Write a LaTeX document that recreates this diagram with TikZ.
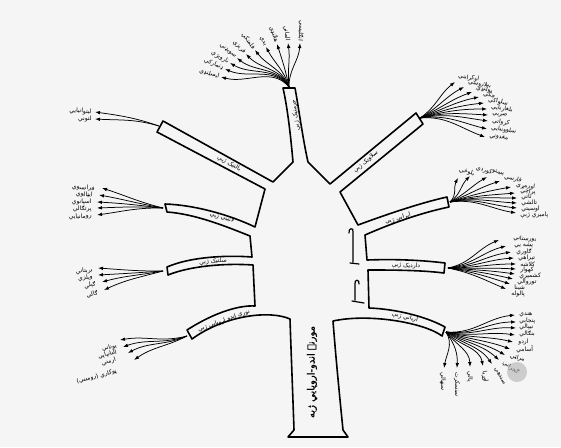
\documentclass[tikz,border=0pt]{standalone}
\usepackage{fontspec}
\newfontfamily\arabicfont[Script=Arabic]{DejaVu Sans}
\newfontfamily\arabicbold[Script=Arabic,FakeBold=1.2]{DejaVu Sans}
\TeXXeTstate=1
\usetikzlibrary{arrows.meta,calc}
\tikzset{
  tree/.style={line width=1.6pt, line join=round},
  fan/.style={line width=0.75pt, -{Latex[length=5pt,width=3.6pt]}},
  lab/.style={font=\arabicfont\fontsize{6}{7}\selectfont, inner sep=0.2pt},
  blab/.style={font=\arabicfont\fontsize{6}{7}\selectfont, inner sep=0pt},
  tlab/.style={font=\arabicbold\fontsize{10}{12}\selectfont, inner sep=0pt},
  brk/.style={line width=1.2pt, line cap=round}
}
\begin{document}
\begin{tikzpicture}[x=1pt,y=1pt]
\useasboundingbox (0,0) rectangle (561,-447);
\fill[gray!8] (0,0) rectangle (561,-447);

% tree outline
\draw[tree]
 (288,-437) -- (294,-430)
 .. controls (293,-400) and (291,-350) .. (290,-319)
 .. controls (270,-310) and (225,-315) .. (192,-339)
 -- (187,-330)
 .. controls (215,-312) and (240,-305) .. (255,-306)
 -- (253,-265)
 .. controls (225,-263) and (190,-266) .. (168,-275)
 -- (167,-267)
 .. controls (190,-257) and (225,-255) .. (252,-257)
 -- (250,-236)
 .. controls (225,-226) and (195,-214) .. (167,-212)
 -- (165,-204)
 .. controls (195,-205) and (230,-215) .. (255,-227)
 -- (265,-189)
 -- (157,-132)
 -- (163,-121)
 -- (273,-182)
 -- (293,-162)
 .. controls (291,-140) and (288,-110) .. (283,-88)
 -- (295,-88)
 .. controls (299,-110) and (303,-140) .. (308,-162)
 -- (330,-184)
 -- (416,-113)
 -- (423,-124)
 -- (340,-192)
 -- (358,-225)
 .. controls (385,-215) and (420,-203) .. (447,-197)
 -- (449,-207)
 .. controls (420,-213) and (390,-224) .. (365,-235)
 -- (367,-260)
 .. controls (395,-259) and (420,-260) .. (445,-263)
 -- (444,-273)
 .. controls (420,-270) and (390,-270) .. (368,-270)
 -- (369,-308)
 .. controls (395,-309) and (425,-316) .. (445,-327)
 -- (442,-336)
 .. controls (425,-323) and (370,-313) .. (333,-321)
 .. controls (336,-360) and (340,-400) .. (343,-430)
 -- (348,-437) -- cycle;

% brackets on the right of the body
\draw[brk] (349,-233) .. controls (348,-228) and (354,-227) .. (353,-232) -- (353,-262) (350,-263) -- (359,-264);
\draw[brk] (359,-284) .. controls (360,-279) and (354,-279) .. (355,-284) -- (355,-300) (352,-301) -- (364,-303);

% branch labels
\node[tlab,rotate=90] (ltrunk) at (312,-372) {\beginR مورنۍ اندو-اروپايي ژبه\endR};
\node[blab,rotate=98] (lgerm) at (296,-115) {\beginR جرمنيک ژبې\endR};
\node[blab,rotate=-29] (lbalt) at (229,-164) {\beginR بالتيک ژبې\endR};
\node[blab,rotate=40] (lslav) at (366,-162) {\beginR سلاويک ژبې\endR};
\node[blab,rotate=-15] (llat) at (222,-218) {\beginR لاتيني ژبې\endR};
\node[blab,rotate=4] (lcelt) at (213,-262) {\beginR سلتيک ژبې\endR};
\node[blab,rotate=17] (liran) at (398,-219) {\beginR ايراني ژبې\endR};
\node[blab,rotate=-3] (ldard) at (406,-266) {\beginR دارديک ژبې\endR};
\node[blab,rotate=-12] (lind) at (405,-317) {\beginR آرياني ژبې\endR};
\node[blab,rotate=20] (lbl) at (224,-321) {\beginR نورې اندو اروپايي ژبې\endR};

% Germanic fan
\coordinate (G) at (289,-87);
\foreach \n/\hx/\hy/\ang/\txt in {
 1/221/77/165/\beginR ايسلنډي\endR,
 2/225/69/157/\beginR ډنمارکي\endR,
 3/230/63/150/\beginR ناروېژي\endR,
 4/237/58/142/\beginR سويډني\endR,
 5/246/54/134/\beginR فريزي\endR,
 6/255/50/127/\beginR فلمنکي\endR,
 7/266/47/118/\beginR يدي\endR,
 8/277/44/108/\beginR هالنډي\endR,
 9/288/43/98/\beginR الماني\endR,
 10/300/43/86/\beginR انګليسي\endR}{
  \pgfmathsetmacro\outa{(\ang+95)/2}
  \pgfmathsetmacro\ina{\ang+180}
  \pgfmathsetmacro\rota{\ang-180}
  \coordinate (g\n) at (\hx,-\hy);
  \draw[fan] (G) to[out=\outa,in=\ina] (g\n);
  \node[lab,anchor=east,rotate=\rota] (gl\n) at ($(g\n)+(\ang:1.5)$) {\txt};
}

% fans: name prefix, origin, base direction, list
\newcommand\rightfan[4]{%
  \foreach \n/\hx/\hy/\ang/\lx/\ly/\rot/\txt in {#4}{
    \pgfmathsetmacro\outa{(\ang+#3)/2}
    \pgfmathsetmacro\ina{\ang+180}
    \coordinate (#1\n) at (\hx,-\hy);
    \draw[fan] (#2) to[out=\outa,in=\ina] (#1\n);
    \node[lab,anchor=west,rotate=\rot] (#1l\n) at (\lx,-\ly) {\txt};
  }}
\newcommand\leftfan[4]{%
  \foreach \n/\hx/\hy/\ang/\lx/\ly/\rot/\txt in {#4}{
    \pgfmathsetmacro\outa{(\ang+#3)/2}
    \pgfmathsetmacro\ina{\ang+180}
    \coordinate (#1\n) at (\hx,-\hy);
    \draw[fan] (#2) to[out=\outa,in=\ina] (#1\n);
    \node[lab,anchor=east,rotate=\rot] (#1l\n) at (\lx,-\ly) {\txt};
  }}

% Slavic
\coordinate (S) at (420,-118);
\rightfan{s}{S}{30}{
 1/455/82/38/458/76/-10/\beginR اوکرايني\endR,
 2/464/87/28/468/82/-10/\beginR بېلاروسي\endR,
 3/472/92/20/476/88/-10/\beginR پولنډي\endR,
 4/479/97/12/483/94/-10/\beginR چکي\endR,
 5/484/103/6/488/100/-10/\beginR سلواکي\endR,
 6/487/109/0/491/107/-8/\beginR بلغاريايي\endR,
 7/488/115/-3/492/114/-8/\beginR صربي\endR,
 8/488/121/-8/492/121/-8/\beginR کرواتي\endR,
 9/487/129/-14/491/128/-8/\beginR سلوونيايي\endR,
 10/485/137/-20/489/136/-8/\beginR مقدوني\endR}

% Iranian
\coordinate (I) at (450,-202);
\rightfan{i}{I}{25}{
 1/458/178/62/459/170/-15/\beginR بلوڅي\endR,
 2/470/176/45/476/168/-15/\beginR کوردي\endR,
 3/487/177/30/492/171/-15/\beginR پښتو\endR,
 4/500/181/18/504/177/-12/\beginR فارسي\endR,
 5/511/187/10/516/185/-6/\beginR اورمړي\endR,
 6/515/193/5/520/191/-4/\beginR پراچي\endR,
 7/517/198/0/521/197/0/\beginR تاتي\endR,
 8/517/203/-3/521/203/0/\beginR تالشي\endR,
 9/517/208/-6/521/209/0/\beginR اوسيتي\endR,
 10/516/213/-10/520/215/0/\beginR پاميري ژبې\endR}

% Dardic
\coordinate (D) at (448,-268);
\rightfan{d}{D}{0}{
 1/499/240/22/513/238/-4/\beginR نورستاني\endR,
 2/506/246/15/514/245/-3/\beginR پشه يي\endR,
 3/511/252/9/516/252/0/\beginR ګاوري\endR,
 4/514/258/4/518/258/0/\beginR تيراهي\endR,
 5/516/264/0/520/264/0/\beginR کلاشه\endR,
 6/516/269/-3/520/270/0/\beginR کهوار\endR,
 7/515/274/-8/519/276/0/\beginR کشميري\endR,
 8/513/279/-13/517/282/0/\beginR توروالي\endR,
 9/510/284/-18/514/288/0/\beginR شينا\endR,
 10/506/289/-23/511/294/0/\beginR پالوله\endR}

% Indic
\coordinate (N) at (446,-332);
\rightfan{n}{N}{-15}{
 1/515/315/6/519/315/0/\beginR هندي\endR,
 2/516/322/0/519/321/0/\beginR پنجابي\endR,
 3/516/328/-3/519/327/0/\beginR نيپالي\endR,
 4/515/335/-8/519/334/0/\beginR بنګالي\endR,
 5/513/342/-13/518/342/0/\beginR اردو\endR,
 6/510/349/-20/516/349/0/\beginR آسامي\endR,
 7/505/355/-30/510/356/-15/\beginR مراټي\endR,
 8/499/360/-42/503/362/-35/\beginR ګجراتي\endR,
 9/492/364/-55/495/368/-60/\beginR سندهي\endR,
 10/483/366/-78/484/371/-80/\beginR اوړيا\endR,
 11/470/367/-88/470/371/-90/\beginR پالي\endR,
 12/457/368/-93/457/372/-90/\beginR سنسکرت\endR,
 13/444/368/-100/443/372/-90/\beginR سنهالي\endR}

% Baltic
\coordinate (B) at (159,-126);
\leftfan{b}{B}{150}{
 1/95/112/172/92/112/-3/\beginR ليتوانيايي\endR,
 2/95/119/177/92/119/0/\beginR لتوني\endR}

% Latin
\coordinate (L) at (163,-208);
\leftfan{l}{L}{170}{
 1/102/188/162/95/189/-5/\beginR فرانسوي\endR,
 2/99/195/170/93/195/-3/\beginR ايټالوي\endR,
 3/97/202/177/92/202/0/\beginR اسپانوي\endR,
 4/97/208/182/92/209/0/\beginR پرتګالي\endR,
 5/97/215/188/92/216/3/\beginR رومانيايي\endR}

% Celtic
\coordinate (C) at (163,-271);
\leftfan{c}{C}{185}{
 1/98/268/176/93/270/5/\beginR برېتاني\endR,
 2/98/275/183/93/277/8/\beginR ويلزي\endR,
 3/102/282/195/96/284/12/\beginR ګېلي\endR,
 4/104/290/205/98/293/15/\beginR ګالي\endR}

% other Indo-European
\coordinate (M) at (187,-336);
\leftfan{m}{M}{200}{
 1/120/340/190/117/346/12/\beginR يوناني\endR,
 2/123/347/200/117/352/15/\beginR البانيايي\endR,
 3/128/353/208/116/359/18/\beginR ارمني\endR,
 4/134/360/215/117/371/15/\beginR ټوکاري (روميني)\endR}

% grey smudge
\fill[gray!60,opacity=0.6] (517,-372) circle (10);
\end{tikzpicture}
\end{document}
